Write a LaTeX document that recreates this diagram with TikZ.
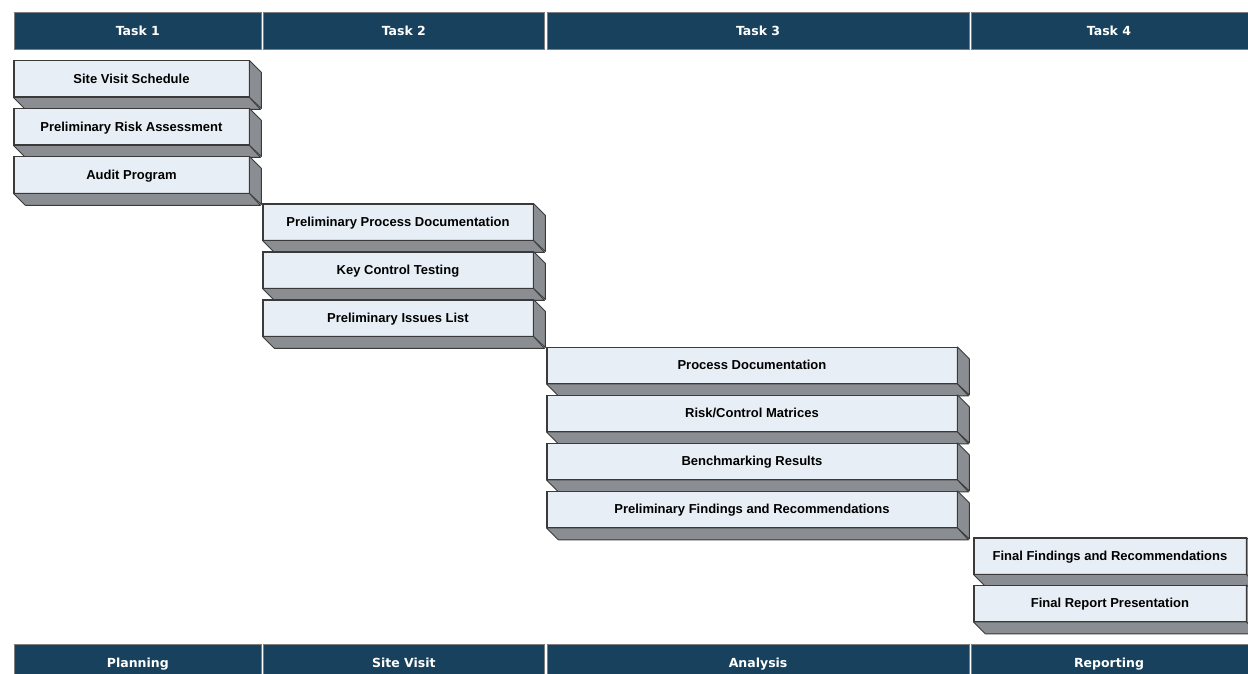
\documentclass[tikz,border=0pt]{standalone}
\usepackage{fontspec}
\setmainfont{Liberation Sans}
\newfontfamily\hdrfont{DejaVu Sans}
\definecolor{hdrblue}{HTML}{17415C}
\definecolor{hdrborder}{HTML}{7F7F7F}
\definecolor{facefill}{HTML}{E8EEF5}
\definecolor{sidefill}{HTML}{8A8E92}
\definecolor{edgecol}{HTML}{3A3A3A}
\tikzset{
  hdrtext/.style={text=white, text height=9.1pt, text depth=0pt, inner sep=0pt,
    font=\hdrfont\bfseries\fontsize{12.5}{14}\selectfont},
  hdr/.style={hdrtext, draw=hdrborder, line width=1.2pt, fill=hdrblue, anchor=north west,
    minimum height=37.5pt},
  front/.style={draw=edgecol, line width=0.9pt, fill=facefill, anchor=north west,
    minimum height=36pt, inner sep=0pt, text height=9.3pt, text depth=0.3pt,
    font=\bfseries\fontsize{13}{15}\selectfont},
  sideface/.style={draw=edgecol, line width=0.9pt, fill=sidefill, line join=round},
}
\newcommand{\taskbox}[5]{% name, x, y, width, text
  \node[front, minimum width=#4pt] (#1) at (#2,#3) {#5};
  \filldraw[sideface] (#1.north east) -- ++(12,12) -- ++(0,36) -- (#1.south east) -- cycle;
  \filldraw[sideface] (#1.south west) -- ++(12,12) -- ++(#4,0) -- (#1.south east) -- cycle;
  \draw[draw=edgecol, line width=0.9pt] (#1.north west) rectangle (#1.south east);
}
\begin{document}
\begin{tikzpicture}[x=1pt,y=-1pt]
\useasboundingbox (0,0) rectangle (1248,674);
\begin{scope}
\clip (0,0) rectangle (1248,674);
% headers
\node[hdr, minimum width=247.5pt] (h1) at (13.5,11.7) {Task 1};
\node[hdr, minimum width=281.5pt] (h2) at (262.5,11.7) {Task 2};
\node[hdr, minimum width=422pt] (h3) at (546.5,11.7) {Task 3};
\node[hdr, minimum width=300pt] (h4) at (970.5,11.7) {};
\node[hdrtext] (h4t) at (1109,0 |- h1.center) {Task 4};
% footers
\node[hdr, minimum width=247.5pt] (f1) at (13.5,643.5) {Planning};
\node[hdr, minimum width=281.5pt] (f2) at (262.5,643.5) {Site Visit};
\node[hdr, minimum width=422pt] (f3) at (546.5,643.5) {Analysis};
\node[hdr, minimum width=300pt] (f4) at (970.5,643.5) {};
\node[hdrtext] (f4t) at (1109,0 |- f1.center) {Reporting};
% column 1
\taskbox{a1}{13.5}{60.5}{235}{Site Visit Schedule}
\taskbox{a2}{13.5}{108.5}{235}{Preliminary Risk Assessment}
\taskbox{a3}{13.5}{156.5}{235}{Audit Program}
% column 2
\taskbox{b1}{262.5}{203.5}{270}{Preliminary Process Documentation}
\taskbox{b2}{262.5}{251.5}{270}{Key Control Testing}
\taskbox{b3}{262.5}{299.5}{270}{Preliminary Issues List}
% column 3
\taskbox{c1}{546.5}{347}{410}{Process Documentation}
\taskbox{c2}{546.5}{395}{410}{Risk/Control Matrices}
\taskbox{c3}{546.5}{443}{410}{Benchmarking Results}
\taskbox{c4}{546.5}{491}{410}{Preliminary Findings and Recommendations}
% column 4
\taskbox{d1}{973.5}{537.5}{272}{Final Findings and Recommendations}
\taskbox{d2}{973.5}{585}{272}{Final Report Presentation}
\end{scope}
\end{tikzpicture}
\end{document}
